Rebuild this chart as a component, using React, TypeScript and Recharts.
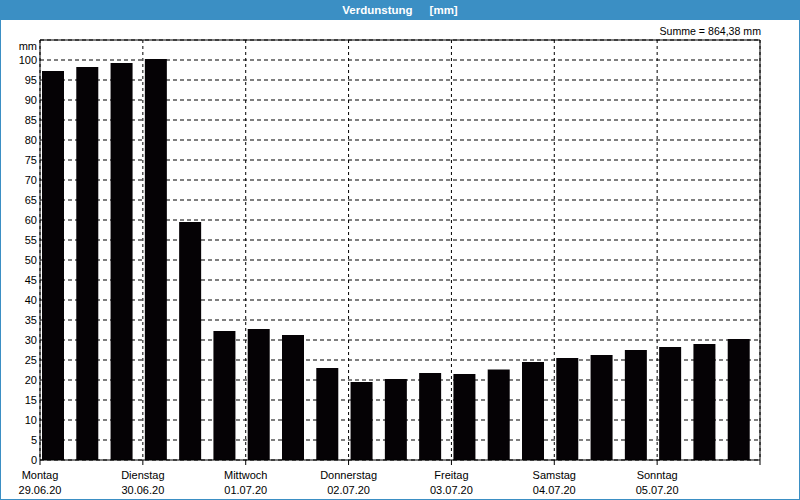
import React from 'react';
import { BarChart, Bar, XAxis, YAxis, CartesianGrid, ReferenceLine } from 'recharts';

// 21 Messintervalle (3 pro Tag)
const slots = ['1', '2', '3', '4', '5', '6', '7', '8', '9', '10', '11', '12', '13', '14', '15', '16', '17', '18', '19', '20', '21'];
const evaporation = [97.25, 98.25, 99.25, 100.25, 59.5, 32.25, 32.75, 31.25, 23.0, 19.5, 20.25, 21.75, 21.5, 22.6, 24.5, 25.5, 26.25, 27.5, 28.25, 29.0, 30.25];

const dayNames = ['Montag', 'Dienstag', 'Mittwoch', 'Donnerstag', 'Freitag', 'Samstag', 'Sonntag'];
const dayDates = ['29.06.20', '30.06.20', '01.07.20', '02.07.20', '03.07.20', '04.07.20', '05.07.20'];
const dayTicks = [0, 3, 6, 9, 12, 15, 18, 21];
const yTicks = [0, 5, 10, 15, 20, 25, 30, 35, 40, 45, 50, 55, 60, 65, 70, 75, 80, 85, 90, 95, 100];

const data = slots.map((slot, i) => ({ slot, value: evaporation[i] }));

const FONT = '"Liberation Sans", Arial, sans-serif';
const BLUE = '#3b8fc4';

function DayTick(props: any) {
  const { x, y, payload } = props;
  const i = payload.value / 3;
  if (!dayNames[i]) return null;
  return (
    <text x={x} y={y} textAnchor="middle" fontSize={11} fontFamily={FONT} fill="#000">
      <tspan x={x} dy={12}>{dayNames[i]}</tspan>
      <tspan x={x} dy={15}>{dayDates[i]}</tspan>
    </text>
  );
}

export default function App() {
  return (
    <div
      style={{
        position: 'absolute',
        left: 0,
        top: 0,
        width: 800,
        height: 500,
        background: '#fff',
        boxShadow: `inset 0 0 0 1px ${BLUE}`,
        fontFamily: FONT,
      }}
    >
      <div
        style={{
          position: 'absolute',
          left: 0,
          top: 0,
          width: 800,
          height: 20,
          background: BLUE,
          color: '#fff',
          fontWeight: 'bold',
          fontSize: 11.5,
          lineHeight: '20px',
          textAlign: 'center',
        }}
      >
        <span style={{ marginRight: 17 }}>Verdunstung</span>
        <span>[mm]</span>
      </div>
      <div style={{ position: 'absolute', right: 39, top: 25, fontSize: 10.6, lineHeight: '13px' }}>
        Summe = 864,38 mm
      </div>
      <div style={{ position: 'absolute', right: 763, top: 40, fontSize: 11, lineHeight: '13px' }}>mm</div>
      <BarChart
        width={800}
        height={500}
        data={data}
        margin={{ top: 40, right: 40, left: 0, bottom: 0 }}
        style={{ position: 'absolute', left: 0, top: 0 }}
      >
        <CartesianGrid vertical={false} stroke="#000" strokeDasharray="4 3" />
        <CartesianGrid xAxisId="days" horizontal={false} stroke="#000" strokeDasharray="3 3" />
        <XAxis dataKey="slot" hide height={0} padding={{ left: -4, right: 4 }} />
        <XAxis
          xAxisId="days"
          dataKey="none"
          type="number"
          scale="linear"
          domain={[0, 21]}
          ticks={dayTicks}
          allowDataOverflow
          height={40}
          tickSize={5}
          tickMargin={2}
          axisLine={{ stroke: '#000' }}
          tickLine={{ stroke: '#000' }}
          tick={<DayTick />}
          interval={0}
        />
        <YAxis
          width={40}
          domain={[0, 105]}
          ticks={yTicks}
          allowDataOverflow
          interval={0}
          tickSize={3}
          tickMargin={0}
          tickLine={false}
          axisLine={{ stroke: '#000' }}
          tick={{ fill: '#000', fontSize: 11, fontFamily: FONT }}
        />
        <ReferenceLine xAxisId="days" y={105} stroke="#000" />
        <ReferenceLine xAxisId="days" x={21} stroke="#000" />
        <Bar dataKey="value" fill="#050205" barSize={22} isAnimationActive={false} />
      </BarChart>
    </div>
  );
}
